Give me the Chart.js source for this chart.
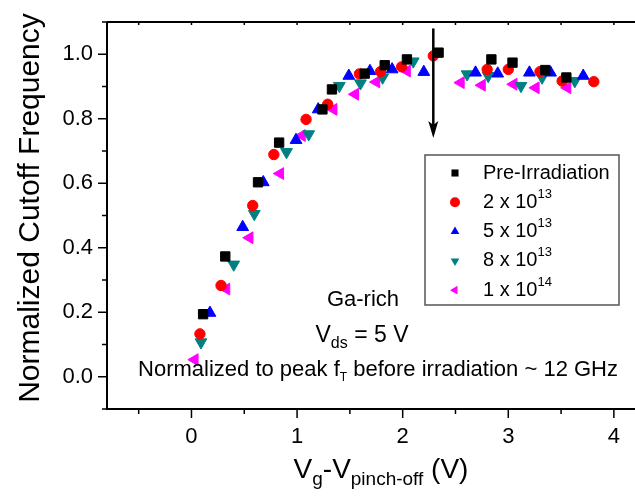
<!DOCTYPE html>
<html>
<head>
<meta charset="utf-8">
<script src="https://cdn.jsdelivr.net/npm/chart.js@4.4.1/dist/chart.umd.min.js"></script>
<style>
  html, body { margin: 0; padding: 0; background: #fff; }
  #wrap { width: 635px; height: 500px; }
</style>
</head>
<body>
<div id="wrap"><canvas id="ftChart" width="635" height="500"></canvas></div>
<script>
// data (x = Vg - Vpinch-off in V, y = normalized fT)
const preX = [0.11, 0.32, 0.63, 0.83, 1.24, 1.33, 1.64, 1.83, 2.04, 2.34, 2.84, 3.04, 3.35, 3.55];
const preY = [0.194, 0.373, 0.603, 0.726, 0.829, 0.891, 0.940, 0.966, 0.984, 1.005, 0.984, 0.974, 0.951, 0.928];

const d2e13X = [0.08, 0.28, 0.58, 0.78, 1.085, 1.29, 1.59, 1.79, 1.99, 2.29, 2.80, 3.00, 3.30, 3.51, 3.81];
const d2e13Y = [0.133, 0.283, 0.531, 0.689, 0.798, 0.845, 0.939, 0.946, 0.961, 0.995, 0.953, 0.953, 0.946, 0.917, 0.915];

const d5e13X = [0.175, 0.485, 0.68, 0.99, 1.20, 1.49, 1.69, 1.90, 2.20, 2.69, 2.90, 3.20, 3.40, 3.71];
const d5e13Y = [0.198, 0.464, 0.603, 0.734, 0.829, 0.933, 0.948, 0.953, 0.945, 0.943, 0.940, 0.943, 0.943, 0.933];

const d8e13X = [0.09, 0.40, 0.595, 0.90, 1.11, 1.40, 1.60, 1.81, 2.10, 2.61, 2.81, 3.12, 3.32, 3.63];
const d8e13Y = [0.107, 0.348, 0.505, 0.697, 0.752, 0.902, 0.910, 0.928, 0.978, 0.938, 0.933, 0.902, 0.928, 0.917];

const d1e14X = [0.03, 0.33, 0.55, 0.84, 1.045, 1.345, 1.55, 1.75, 2.04, 2.55, 2.75, 3.05, 3.26, 3.56];
const d1e14Y = [0.053, 0.272, 0.431, 0.630, 0.748, 0.829, 0.876, 0.914, 0.948, 0.912, 0.904, 0.907, 0.896, 0.896];

const seriesLabels = ["Pre-Irradiation", "2 x 10", "5 x 10", "8 x 10", "1 x 10"];
const seriesExp = ["", "13", "13", "13", "14"];

// tick positions (labels only on the integer / even-tenth ones)
const xTicks = [-0.5, 0, 0.5, 1, 1.5, 2, 2.5, 3, 3.5, 4];
const yTicks = [-0.1, 0, 0.1, 0.2, 0.3, 0.4, 0.5, 0.6, 0.7, 0.8, 0.9, 1.0, 1.1];
const xMin = -0.8, xMax = 4.2;
const yMin = -0.1, yMax = 1.1;

const arrowX = 2.29;
const arrowTop = 1.08;
const arrowBottom = 0.74;

const FONT = '"Liberation Sans", Arial, sans-serif';

const toPts = (xs, ys) => xs.map((x, i) => ({ x: x, y: ys[i] }));

const styles = [
    { pointStyle: "rect", radius: 6.6, rotation: 0, color: "#000000" },
    { pointStyle: "circle", radius: 5.2, rotation: 0, color: "#ff0000" },
    { pointStyle: "triangle", radius: 6.8, rotation: 0, color: "#0000ff" },
    { pointStyle: "triangle", radius: 6.8, rotation: 180, color: "#008080" },
    { pointStyle: "triangle", radius: 6.8, rotation: 270, color: "#ff00ff" },
];

const allData = [
    toPts(preX, preY),
    toPts(d2e13X, d2e13Y),
    toPts(d5e13X, d5e13Y),
    toPts(d8e13X, d8e13Y),
    toPts(d1e14X, d1e14Y),
];

const datasets = allData.map((pts, i) => ({
    label: seriesLabels[i] + seriesExp[i],
    data: pts,
    pointStyle: styles[i].pointStyle,
    pointRadius: styles[i].radius,
    pointRotation: styles[i].rotation,
    backgroundColor: styles[i].color,
    borderColor: styles[i].color,
    borderWidth: 1,
    showLine: false,
}));

// helper: text with a sub/superscript part
function drawRich(ctx, parts, x, y, align) {
    let total = 0;
    parts.forEach((p) => {
        ctx.font = p.size + "px " + FONT;
        total += ctx.measureText(p.t).width;
    });
    let cx = align === "center" ? x - total / 2 : x;
    ctx.textAlign = "left";
    parts.forEach((p) => {
        ctx.font = p.size + "px " + FONT;
        ctx.fillText(p.t, cx, y + (p.dy || 0));
        cx += ctx.measureText(p.t).width;
    });
}

// bounds are added as unlabeled ticks so Chart.js adds no label padding at the ends
const setTicks = (vals, lo, hi) => (scale) => {
    scale.ticks = [lo, ...vals, hi].map((v) => ({ value: v }));
};

const framePlugin = {
    id: "frame",
    afterDraw(chart) {
        const ctx = chart.ctx;
        const area = chart.chartArea;
        const xs = chart.scales.x;
        const ys = chart.scales.y;
        ctx.save();
        ctx.fillStyle = "#000";
        ctx.strokeStyle = "#000";

        // axes frame (left, bottom, top)
        ctx.lineWidth = 2;
        ctx.beginPath();
        ctx.moveTo(area.left, area.top);
        ctx.lineTo(area.left, area.bottom);
        ctx.lineTo(area.right, area.bottom);
        ctx.moveTo(area.left, area.top);
        ctx.lineTo(area.right, area.top);
        ctx.stroke();

        // tick marks
        ctx.lineWidth = 1.5;
        xTicks.forEach((v) => {
            const px = xs.getPixelForValue(v);
            const major = Number.isInteger(v);
            ctx.beginPath();
            ctx.moveTo(px, area.bottom);
            ctx.lineTo(px, area.bottom + (major ? 9 : 5));
            ctx.moveTo(px, area.top);
            ctx.lineTo(px, area.top + 3);
            ctx.stroke();
        });
        yTicks.forEach((v) => {
            const py = ys.getPixelForValue(v);
            const major = Math.round(v * 10) % 2 === 0;
            ctx.beginPath();
            ctx.moveTo(area.left, py);
            ctx.lineTo(area.left - (major ? 9 : 5), py);
            ctx.stroke();
        });

        // vertical arrow
        const ax = xs.getPixelForValue(arrowX);
        const ay0 = ys.getPixelForValue(arrowTop);
        const ay1 = ys.getPixelForValue(arrowBottom);
        ctx.lineWidth = 2.5;
        ctx.beginPath();
        ctx.moveTo(ax, ay0);
        ctx.lineTo(ax, ay1 - 12);
        ctx.stroke();
        ctx.beginPath();
        ctx.moveTo(ax, ay1);
        ctx.lineTo(ax - 5, ay1 - 17);
        ctx.lineTo(ax, ay1 - 13);
        ctx.lineTo(ax + 5, ay1 - 17);
        ctx.closePath();
        ctx.fill();

        // annotations
        ctx.textBaseline = "alphabetic";
        drawRich(ctx, [{ t: "Ga-rich", size: 22 }], 363, 306, "center");
        drawRich(ctx, [
            { t: "V", size: 23 },
            { t: "ds", size: 16, dy: 6 },
            { t: " = 5 V", size: 23 },
        ], 362, 342, "center");
        drawRich(ctx, [
            { t: "Normalized to peak f", size: 22 },
            { t: "T", size: 12, dy: 5 },
            { t: " before irradiation ~ 12 GHz", size: 22 },
        ], 378, 376, "center");

        // y title
        ctx.save();
        ctx.translate(31, 208);
        ctx.rotate(-Math.PI / 2);
        ctx.font = "30px " + FONT;
        ctx.textAlign = "center";
        ctx.textBaseline = "middle";
        ctx.fillText("Normalized Cutoff Frequency", 0, 0);
        ctx.restore();

        // x title
        ctx.textBaseline = "alphabetic";
        drawRich(ctx, [
            { t: "V", size: 28 },
            { t: "g", size: 19, dy: 7 },
            { t: "-V", size: 28 },
            { t: "pinch-off", size: 19, dy: 7 },
            { t: " (V)", size: 28 },
        ], 381, 478, "center");

        // legend box
        const lx = 425, ly = 155, lw = 194, lh = 150;
        ctx.fillStyle = "#fff";
        ctx.fillRect(lx, ly, lw, lh);
        ctx.strokeStyle = "#555";
        ctx.lineWidth = 1.5;
        ctx.strokeRect(lx, ly, lw, lh);
        const rowH = 29.3;
        datasets.forEach((ds, i) => {
            const ry = ly + 18 + i * rowH;
            ctx.fillStyle = styles[i].color;
            ctx.strokeStyle = styles[i].color;
            Chart.helpers.drawPoint(ctx, {
                pointStyle: styles[i].pointStyle,
                rotation: styles[i].rotation,
                radius: 5,
                borderWidth: 0,
            }, 455, ry);
            ctx.fillStyle = "#000";
            ctx.textBaseline = "middle";
            drawRich(ctx, [
                { t: seriesLabels[i], size: 20 },
                { t: seriesExp[i], size: 13, dy: -8 },
            ], 483, ry, "left");
        });
        ctx.restore();
    },
};

new Chart(document.getElementById("ftChart").getContext("2d"), {
    type: "scatter",
    data: { datasets: datasets },
    plugins: [framePlugin],
    options: {
        responsive: false,
        animation: false,
        layout: { autoPadding: false, padding: { left: 0, top: 22, right: 0, bottom: 0 } },
        plugins: {
            legend: { display: false },
            tooltip: { enabled: false },
        },
        scales: {
            x: {
                type: "linear",
                min: xMin,
                max: xMax,
                afterBuildTicks: setTicks(xTicks, xMin, xMax),
                afterFit: (scale) => { scale.height = 91; },
                border: { display: false },
                grid: { display: true, drawOnChartArea: false, drawTicks: true, tickLength: 15, color: "rgba(0,0,0,0)" },
                ticks: {
                    autoSkip: false,
                    maxRotation: 0,
                    padding: 0,
                    color: "#000",
                    font: { family: FONT, size: 22 },
                    callback: (v) => (Number.isInteger(v) && v >= 0 ? String(v) : ""),
                },
            },
            y: {
                type: "linear",
                min: yMin,
                max: yMax,
                afterBuildTicks: setTicks(yTicks, yMin, yMax),
                afterFit: (scale) => { scale.width = 107; },
                border: { display: false },
                grid: { display: true, drawOnChartArea: false, drawTicks: true, tickLength: 9, color: "rgba(0,0,0,0)" },
                ticks: {
                    autoSkip: false,
                    padding: 5,
                    color: "#000",
                    font: { family: FONT, size: 22 },
                    callback: (v) => (Math.round(v * 10) % 2 === 0 ? v.toFixed(1) : ""),
                },
            },
        },
    },
});
</script>
</body>
</html>
